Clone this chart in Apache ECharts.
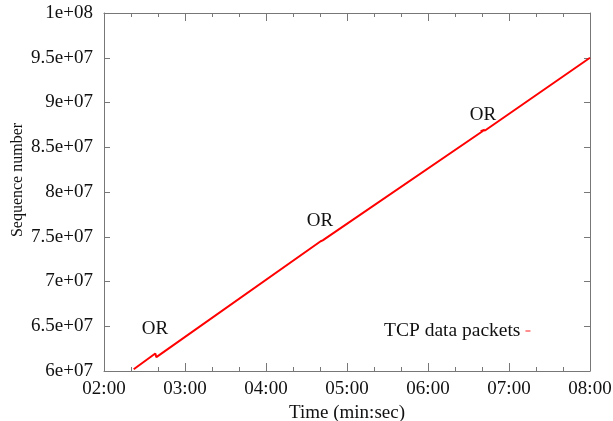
<!DOCTYPE html>
<html>
<head>
<meta charset="utf-8">
<script src="https://cdn.jsdelivr.net/npm/echarts@6/dist/echarts.min.js"></script>
<style>html,body{margin:0;padding:0;background:#fff}#c{width:613px;height:421px}</style>
</head>
<body>
<div id="c"></div>
<script>
// Time in seconds since 00:00, sequence numbers
var packetTimes = [142, 158, 158.8, 159.2, 280.5, 281.3, 280.8, 282, 402, 399, 402.5, 480];
var packetSeqs  = [6.02e7, 6.195e7, 6.155e7, 6.175e7, 7.45e7, 7.435e7, 7.44e7, 7.46e7, 8.695e7, 8.68e7, 8.69e7, 9.5e7];
var orTimes = [157.8, 280, 400.7];
var orSeqs  = [6.49e7, 7.70e7, 8.88e7];
var orText = 'OR';
var xTickValues = [120, 180, 240, 300, 360, 420, 480];
var yTickValues = [6e7, 6.5e7, 7e7, 7.5e7, 8e7, 8.5e7, 9e7, 9.5e7, 1e8];
var seriesName = 'TCP data packets';

function fmtTime(v) {
  var m = Math.floor(v / 60), s = Math.round(v - m * 60);
  return (m < 10 ? '0' : '') + m + ':' + (s < 10 ? '0' : '') + s;
}
function fmtSci(v) {
  var e = Math.floor(Math.log10(v) + 1e-9);
  var m = Math.round(v / Math.pow(10, e) * 100) / 100;
  return m + 'e+' + (e < 10 ? '0' : '') + e;
}
var FONT = 'Liberation Serif';
var AX = '#777';
var TXT = '#111';
var lineData = packetTimes.map(function (t, i) { return [t, packetSeqs[i]]; });
var orData = orTimes.map(function (t, i) { return [t, orSeqs[i]]; });

var chart = echarts.init(document.getElementById('c'), null, {renderer: 'canvas'});
var xBase = {
  type: 'value', min: xTickValues[0], max: xTickValues[xTickValues.length - 1], interval: 60,
  axisLine: {show: true, lineStyle: {color: AX, width: 1}},
  axisTick: {show: true, inside: true, length: 8, lineStyle: {color: AX}},
  minorTick: {show: true, splitNumber: 3, length: 4, lineStyle: {color: AX}},
  splitLine: {show: false}, minorSplitLine: {show: false}
};
var yBase = {
  type: 'value', min: yTickValues[0], max: yTickValues[yTickValues.length - 1], interval: 5e6,
  axisLine: {show: true, lineStyle: {color: AX, width: 1}},
  axisTick: {show: true, inside: true, length: 6, lineStyle: {color: AX}},
  splitLine: {show: false}
};
chart.setOption({
  animation: false,
  backgroundColor: '#fff',
  textStyle: {fontFamily: FONT},
  grid: {left: 104, right: 23, top: 13, bottom: 50, containLabel: false, outerBoundsMode: 'none'},
  xAxis: [
    Object.assign({}, xBase, {
      position: 'bottom',
      name: 'Time (min:sec)', nameLocation: 'middle', nameGap: 29,
      nameTextStyle: {fontFamily: FONT, fontSize: 19, color: TXT},
      axisLabel: {show: true, margin: 9, fontFamily: FONT, fontSize: 19, color: TXT, formatter: fmtTime}
    }),
    Object.assign({}, xBase, {position: 'top', axisLabel: {show: false}})
  ],
  yAxis: [
    Object.assign({}, yBase, {
      position: 'left',
      name: 'Sequence number', nameLocation: 'middle', nameGap: 78, nameRotate: 90, nameMoveOverlap: false,
      nameTextStyle: {fontFamily: FONT, fontSize: 16, color: TXT, padding: [0, 0, 0, 24]},
      axisLabel: {show: true, margin: 11, fontFamily: FONT, fontSize: 19, color: TXT, formatter: fmtSci}
    }),
    Object.assign({}, yBase, {position: 'right', axisLabel: {show: false}})
  ],
  legend: {
    show: true, data: [{name: seriesName, itemStyle: {color: '#ff6a6a'}}], left: 384, top: 321, align: 'right',
    itemWidth: 5, itemHeight: 1.5, icon: 'rect', padding: 0,
    textStyle: {fontFamily: FONT, fontSize: 19.5, color: TXT}
  },
  series: [
    {
      name: seriesName, type: 'line', data: lineData, showSymbol: false, symbol: 'none',
      lineStyle: {color: '#ff0000', width: 2}, itemStyle: {color: '#ff0000'}, clip: true
    },
    {
      name: 'OR', type: 'scatter', data: orData, symbolSize: 1, silent: true,
      itemStyle: {color: 'rgba(0,0,0,0)'},
      label: {show: true, position: 'top', distance: -12, formatter: orText, fontFamily: FONT, fontSize: 19,
              color: TXT, textBorderWidth: 0, opacity: 1},
      emphasis: {disabled: true}
    }
  ]
});
</script>
</body>
</html>
